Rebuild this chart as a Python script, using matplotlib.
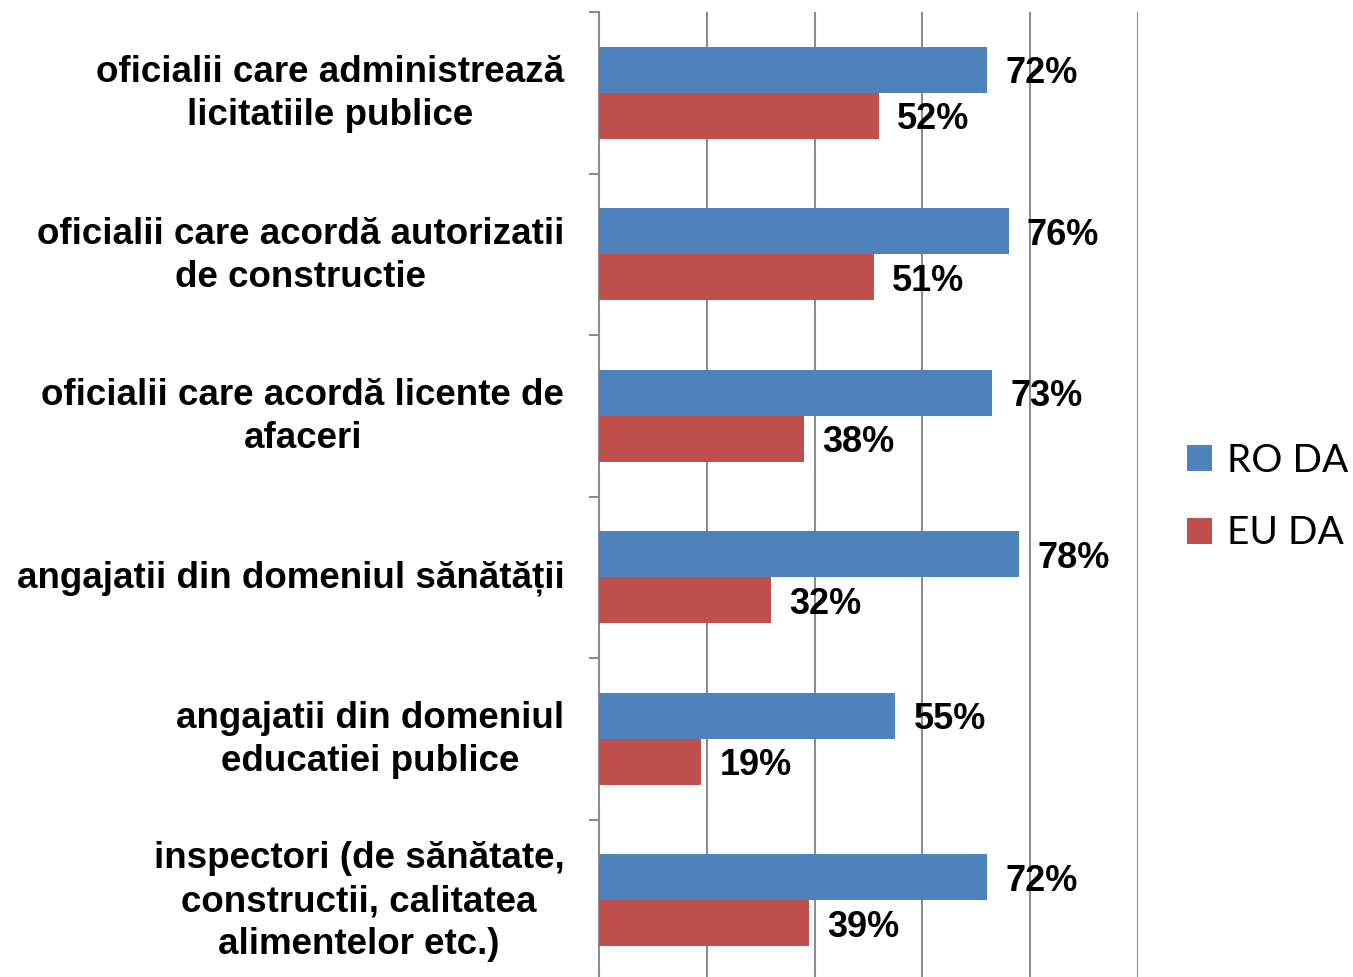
import matplotlib.pyplot as plt
import numpy as np

# data
categories = [
    'oficialii care administrează\nlicitatiile publice',
    'oficialii care acordă autorizatii\nde constructie',
    'oficialii care acordă licente de\nafaceri',
    'angajatii din domeniul sănătății',
    'angajatii din domeniul\neducatiei publice',
    'inspectori (de sănătate,\nconstructii, calitatea\nalimentelor etc.)',
]
ro_da = [72, 76, 73, 78, 55, 72]
eu_da = [52, 51, 38, 32, 19, 39]
series_names = ['RO DA', 'EU DA']

blue = '#4F81BD'
red = '#C0504D'
grey = '#8C8C8C'

fig = plt.figure(figsize=(13.53, 9.77), dpi=100)
ax = fig.add_axes([599 / 1353, 1 - 981 / 977, (1138 - 599) / 1353, (981 - 12) / 977])

y = np.arange(len(categories))
h = 0.285
b1 = ax.barh(y - h / 2, ro_da, height=h, color=blue, label=series_names[0], zorder=3)
b2 = ax.barh(y + h / 2, eu_da, height=h, color=red, label=series_names[1], zorder=3)

ax.set_xlim(0, 100)
ax.set_ylim(len(categories) - 0.5, -0.5)

# value labels
for bars, vals in ((b1, ro_da), (b2, eu_da)):
    for bar, v in zip(bars, vals):
        ax.annotate(f'{v}%', (v, bar.get_y() + bar.get_height() / 2),
                    xytext=(13, -3), textcoords='offset points',
                    ha='left', va='center', fontsize=26, fontweight='bold',
                    family='Liberation Sans', zorder=4)

# category labels
for i, c in enumerate(categories):
    ax.annotate(c, (0, i), xytext=(-25, -1), textcoords='offset points',
                ha='right', va='center', multialignment='center',
                fontsize=26.5, fontweight='bold', family='Liberation Sans',
                linespacing=1.3, annotation_clip=False)

# gridlines / axes
ax.set_xticks(np.arange(0, 101, 20))
ax.xaxis.grid(True, color=grey, linewidth=1.5, zorder=0)
ax.tick_params(axis='x', length=0, labelbottom=False)
ax.set_yticks(np.arange(-0.5, len(categories) + 0.5, 1))
ax.set_yticklabels([])
ax.tick_params(axis='y', direction='out', length=7, width=1.5, color=grey)
for s in ('top', 'right', 'bottom'):
    ax.spines[s].set_visible(False)
ax.spines['left'].set_color(grey)
ax.spines['left'].set_linewidth(1.5)

fig.legend(handles=[b1, b2], labels=series_names, loc='center left',
           bbox_to_anchor=(1152 / 1353, 1 - 497 / 977), frameon=False,
           prop={'family': 'Lato', 'size': 28}, handlelength=0.64,
           handleheight=0.64, handletextpad=0.4, labelspacing=0.95)

plt.savefig('out.png', dpi=100)
